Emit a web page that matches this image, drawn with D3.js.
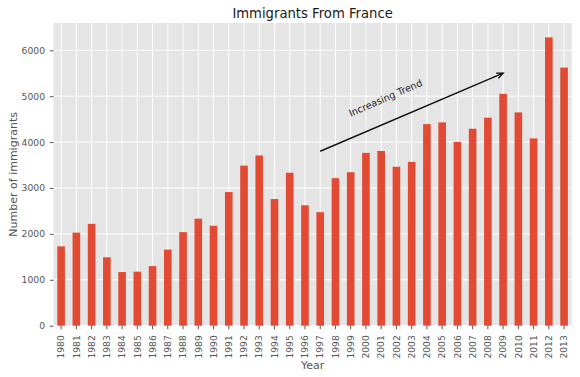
<!DOCTYPE html>
<html>
    <head>
        <meta charset="utf-8">
        <style>
          body { margin: 0; background: #fff; }
          text { font-family: "DejaVu Sans", sans-serif; }
        </style>
    </head>
    <body>
        <script src="https://d3js.org/d3.v7.min.js"></script>
        <script>
          // immigrants from France, by year
          const years = ['1980', '1981', '1982', '1983', '1984', '1985', '1986', '1987', '1988', '1989',
            '1990', '1991', '1992', '1993', '1994', '1995', '1996', '1997', '1998', '1999',
            '2000', '2001', '2002', '2003', '2004', '2005', '2006', '2007', '2008', '2009',
            '2010', '2011', '2012', '2013'];
          const immigrants = [1729, 2027, 2219, 1490, 1169, 1177, 1298, 1658, 2038, 2332,
            2177, 2911, 3487, 3709, 2759, 3332, 2623, 2473, 3214, 3343,
            3765, 3806, 3463, 3568, 4391, 4429, 4002, 4290, 4532, 5051,
            4646, 4080, 6280, 5623];
          const yTicks = [0, 1000, 2000, 3000, 4000, 5000, 6000];

          // annotation: arrow from (1997, 3800) to (2009, 5500), label at (1999, 4550)
          const arrowFrom = ['1997', 3800];
          const arrowTo = ['2009', 5500];
          const labelAt = ['1999', 4550];

          function makeChart() {
            const W = 580, H = 377;
            const margin = { top: 23, right: 8.3, bottom: 51.3, left: 53.5 };
            const width = W - margin.left - margin.right;
            const height = H - margin.top - margin.bottom;

            const svg = d3.select('body').append('svg')
              .attr('width', W)
              .attr('height', H);

            const g = svg.append('g')
              .attr('transform', `translate(${margin.left},${margin.top})`);

            const x = d3.scaleBand()
              .domain(years)
              .range([0, width])
              .paddingInner(0.5)
              .paddingOuter(0.25);

            const y = d3.scaleLinear()
              .domain([0, d3.max(immigrants) * 1.05])
              .range([height, 0]);

            const cx = d => x(d) + x.bandwidth() / 2;

            g.append('rect')
              .attr('width', width)
              .attr('height', height)
              .attr('fill', '#E5E5E5');

            // grid
            g.append('g')
              .selectAll('line')
              .data(yTicks)
              .join('line')
              .attr('x1', 0).attr('x2', width)
              .attr('y1', d => y(d)).attr('y2', d => y(d))
              .attr('stroke', '#fff').attr('stroke-width', 1);

            g.append('g')
              .selectAll('line')
              .data(years)
              .join('line')
              .attr('x1', d => cx(d)).attr('x2', d => cx(d))
              .attr('y1', 0).attr('y2', height)
              .attr('stroke', '#fff').attr('stroke-width', 1);

            // bars
            g.append('g')
              .selectAll('rect')
              .data(years)
              .join('rect')
              .attr('x', d => x(d))
              .attr('width', x.bandwidth())
              .attr('y', (d, i) => y(immigrants[i]))
              .attr('height', (d, i) => height - y(immigrants[i]))
              .attr('fill', '#E24A33');

            // y axis
            const yAxis = d3.axisLeft(y).tickValues(yTicks).tickFormat(d3.format('d'))
              .tickSize(3.5).tickPadding(5);
            const ya = g.append('g').call(yAxis);
            ya.select('.domain').remove();
            ya.selectAll('line').attr('stroke', '#555');
            ya.selectAll('text')
              .attr('fill', '#555')
              .style('font-family', '"DejaVu Sans"')
              .style('font-size', '9.2px');

            // x axis
            const xAxis = d3.axisBottom(x).tickSize(3.5).tickPadding(3.5);
            const xa = g.append('g')
              .attr('transform', `translate(0,${height})`)
              .call(xAxis);
            xa.select('.domain').remove();
            xa.selectAll('line').attr('stroke', '#555');
            xa.selectAll('text')
              .attr('fill', '#555')
              .style('font-family', '"DejaVu Sans"')
              .style('font-size', '9.2px')
              .attr('transform', 'rotate(-90)')
              .attr('text-anchor', 'end')
              .attr('x', -9.5)
              .attr('y', 0)
              .attr('dy', '0.35em');

            // title and labels
            svg.append('text')
              .attr('x', margin.left + width / 2)
              .attr('y', 17.5)
              .attr('text-anchor', 'middle')
              .attr('fill', '#1a1a1a')
              .style('font-size', '13.2px')
              .text('Immigrants From France');

            svg.append('text')
              .attr('x', margin.left + width / 2)
              .attr('y', 368.5)
              .attr('text-anchor', 'middle')
              .attr('fill', '#555')
              .style('font-size', '11px')
              .text('Year');

            svg.append('text')
              .attr('transform', `translate(16.5,${margin.top + height / 2}) rotate(-90)`)
              .attr('text-anchor', 'middle')
              .attr('fill', '#555')
              .style('font-size', '11px')
              .text('Number of immigrants');

            // arrow annotation
            const x1 = cx(arrowFrom[0]), y1 = y(arrowFrom[1]);
            const x2 = cx(arrowTo[0]), y2 = y(arrowTo[1]);
            const ang = Math.atan2(y2 - y1, x2 - x1);
            const hl = 7, hw = 0.42;
            g.append('line')
              .attr('x1', x1).attr('y1', y1)
              .attr('x2', x2).attr('y2', y2)
              .attr('stroke', '#111').attr('stroke-width', 1.4);
            g.append('path')
              .attr('d', `M${x2 - hl * Math.cos(ang - hw)},${y2 - hl * Math.sin(ang - hw)}L${x2},${y2}L${x2 - hl * Math.cos(ang + hw)},${y2 - hl * Math.sin(ang + hw)}`)
              .attr('fill', 'none')
              .attr('stroke', '#111').attr('stroke-width', 1.4);

            g.append('text')
              .attr('transform', `translate(${cx(labelAt[0])},${y(labelAt[1])}) rotate(-23.5)`)
              .attr('fill', '#262626')
              .style('font-size', '9.6px')
              .text('Increasing Trend');
          }

          makeChart();
        </script>
    </body>
</html>
